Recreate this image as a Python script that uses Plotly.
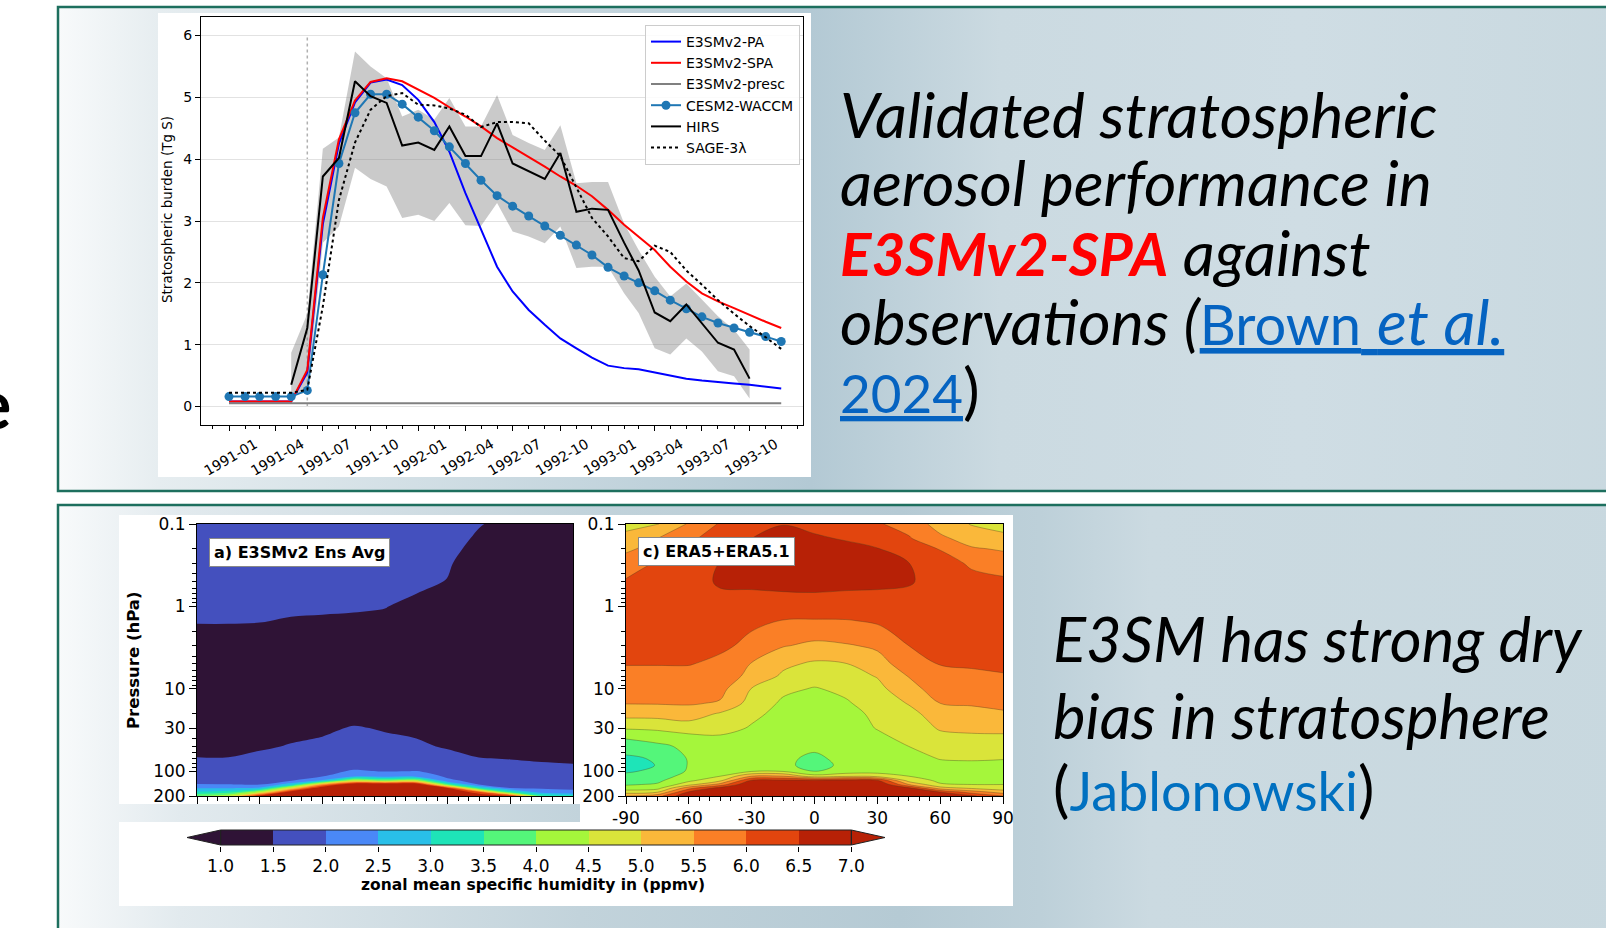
import base64
import numpy as np
import plotly.graph_objects as go

W, H = 1606, 928

# ---------------- top chart data (Tg S) ----------------
MONTHS = [f"{1991 + i // 12}-{i % 12 + 1:02d}-01" for i in range(36)]
PA = [0.08, 0.08, 0.08, 0.08, 0.08, 0.55, 2.95, 4.25, 4.92, 5.24, 5.29, 5.20, 4.96, 4.60, 4.12, 3.45,
      2.86, 2.26, 1.86, 1.56, 1.32, 1.10, 0.94, 0.79, 0.66, 0.62, 0.60, 0.55, 0.50, 0.45, 0.42, 0.39,
      0.37, 0.35, 0.32, 0.29]
SPA = [0.08, 0.08, 0.08, 0.08, 0.08, 0.59, 3.05, 4.32, 4.95, 5.25, 5.31, 5.26, 5.12, 4.99, 4.84, 4.69,
       4.53, 4.34, 4.19, 4.04, 3.88, 3.72, 3.57, 3.40, 3.18, 2.94, 2.75, 2.53, 2.26, 2.02, 1.83, 1.70,
       1.59, 1.48, 1.37, 1.27]
PRESC = [0.05, 0.05, 0.05, 0.05, 0.05, 0.05, 0.05, 0.05, 0.05, 0.05, 0.05, 0.05, 0.05, 0.05, 0.05, 0.055,
         0.055, 0.055, 0.06, 0.06, 0.06, 0.06, 0.06, 0.055, 0.055, 0.055, 0.05, 0.05, 0.05, 0.05, 0.05, 0.05,
         0.05, 0.05, 0.05, 0.05]
CESM = [0.16, 0.16, 0.16, 0.16, 0.16, 0.26, 2.13, 3.93, 4.75, 5.05, 5.05, 4.89, 4.68, 4.46, 4.20, 3.93,
        3.66, 3.41, 3.24, 3.08, 2.92, 2.77, 2.61, 2.45, 2.25, 2.11, 2.00, 1.87, 1.72, 1.58, 1.45, 1.35,
        1.27, 1.20, 1.13, 1.05]
HIRS_MONTHS = MONTHS[4:34]
HIRS = [0.35, 1.27, 3.72, 4.02, 5.26, 5.02, 4.91, 4.22, 4.27, 4.15, 4.53, 4.05, 4.05, 4.58, 3.93, 3.80,
        3.68, 4.10, 3.15, 3.20, 3.18, 2.65, 2.20, 1.52, 1.38, 1.65, 1.35, 1.03, 0.92, 0.45]
HIRS_LO = [0.20, 0.22, 2.65, 2.91, 3.86, 3.68, 3.56, 3.05, 3.10, 3.00, 3.29, 2.93, 2.92, 3.29, 2.83, 2.75,
           2.64, 2.91, 2.24, 2.26, 2.26, 1.83, 1.51, 0.94, 0.84, 1.10, 0.89, 0.57, 0.49, 0.13]
HIRS_HI = [0.87, 1.50, 4.17, 4.35, 5.74, 5.50, 5.31, 4.69, 4.80, 4.64, 4.99, 4.53, 4.53, 5.04, 4.39, 4.26,
           4.15, 4.55, 3.61, 3.63, 3.63, 2.96, 2.53, 2.10, 1.78, 1.99, 1.73, 1.46, 1.24, 0.92]
SAGE = [0.22, 0.22, 0.22, 0.22, 0.22, 0.27, 1.62, 3.34, 4.27, 4.80, 5.02, 5.07, 4.88, 4.87, 4.82, 4.72,
        4.52, 4.60, 4.60, 4.58, 4.30, 4.05, 3.55, 3.05, 2.75, 2.40, 2.35, 2.60, 2.50, 2.20, 1.97, 1.72,
        1.50, 1.30, 1.12, 0.93]
ERUPTION = "1991-06-01"
X_TICKS = MONTHS[0:34:3]
X_TICKTEXT = [m[:7] for m in X_TICKS]

# ---------------- zonal mean specific humidity (ppmv) ----------------
LAT = [-90, -75, -60, -45, -30, -15, 0, 15, 30, 45, 60, 75, 90]
PRES = [0.1, 0.15, 0.2, 0.3, 0.5, 0.7, 1, 1.5, 2, 3, 5, 7, 10, 15, 20, 30, 40, 50, 70, 85,
        100, 115, 130, 145, 160, 180, 200]
# rows follow PRES, columns follow LAT
E3SM_Q = [
    [1.85, 1.85, 1.85, 1.85, 1.85, 1.85, 1.80, 1.75, 1.68, 1.52, 1.40, 1.35, 1.35],
    [1.80, 1.80, 1.80, 1.80, 1.80, 1.78, 1.75, 1.70, 1.63, 1.45, 1.35, 1.30, 1.30],
    [1.77, 1.77, 1.77, 1.76, 1.76, 1.74, 1.71, 1.66, 1.59, 1.40, 1.30, 1.28, 1.28],
    [1.72, 1.72, 1.72, 1.71, 1.71, 1.69, 1.66, 1.61, 1.53, 1.35, 1.28, 1.25, 1.25],
    [1.65, 1.65, 1.65, 1.64, 1.64, 1.62, 1.60, 1.56, 1.49, 1.30, 1.25, 1.22, 1.22],
    [1.60, 1.60, 1.60, 1.59, 1.59, 1.57, 1.55, 1.50, 1.42, 1.27, 1.22, 1.20, 1.20],
    [1.56, 1.56, 1.56, 1.55, 1.54, 1.53, 1.51, 1.42, 1.35, 1.25, 1.20, 1.18, 1.18],
    [1.52, 1.52, 1.51, 1.48, 1.47, 1.46, 1.44, 1.36, 1.30, 1.22, 1.18, 1.16, 1.16],
    [1.45, 1.45, 1.45, 1.42, 1.41, 1.40, 1.38, 1.32, 1.27, 1.20, 1.16, 1.15, 1.15],
    [1.38, 1.38, 1.38, 1.36, 1.35, 1.34, 1.32, 1.28, 1.24, 1.18, 1.15, 1.14, 1.14],
    [1.32, 1.32, 1.32, 1.30, 1.30, 1.30, 1.28, 1.25, 1.22, 1.17, 1.14, 1.13, 1.13],
    [1.30, 1.30, 1.30, 1.28, 1.28, 1.28, 1.26, 1.24, 1.21, 1.17, 1.14, 1.13, 1.13],
    [1.28, 1.28, 1.28, 1.27, 1.27, 1.27, 1.25, 1.23, 1.20, 1.17, 1.14, 1.13, 1.13],
    [1.28, 1.28, 1.28, 1.28, 1.29, 1.30, 1.28, 1.26, 1.22, 1.18, 1.15, 1.14, 1.14],
    [1.30, 1.30, 1.31, 1.33, 1.36, 1.40, 1.37, 1.33, 1.28, 1.22, 1.18, 1.17, 1.17],
    [1.34, 1.34, 1.36, 1.40, 1.45, 1.52, 1.48, 1.43, 1.36, 1.30, 1.25, 1.23, 1.22],
    [1.37, 1.37, 1.41, 1.47, 1.51, 1.58, 1.53, 1.50, 1.41, 1.34, 1.29, 1.27, 1.26],
    [1.41, 1.41, 1.46, 1.52, 1.56, 1.63, 1.58, 1.55, 1.47, 1.39, 1.33, 1.31, 1.30],
    [1.51, 1.51, 1.57, 1.62, 1.66, 1.72, 1.68, 1.65, 1.60, 1.51, 1.49, 1.46, 1.44],
    [1.58, 1.58, 1.63, 1.70, 1.76, 1.85, 1.82, 1.80, 1.70, 1.58, 1.56, 1.54, 1.52],
    [1.66, 1.66, 1.70, 1.78, 1.86, 2.05, 1.98, 2.01, 1.80, 1.66, 1.62, 1.60, 1.58],
    [1.76, 1.76, 1.78, 1.86, 1.96, 2.40, 2.25, 2.30, 1.92, 1.74, 1.68, 1.66, 1.64],
    [1.88, 1.88, 1.88, 1.97, 2.60, 4.50, 4.00, 4.30, 2.10, 1.84, 1.76, 1.73, 1.71],
    [2.02, 2.01, 1.98, 2.80, 5.50, 7.30, 7.30, 7.30, 3.60, 1.98, 1.86, 1.82, 1.80],
    [2.45, 2.45, 2.60, 4.80, 7.10, 7.30, 7.30, 7.30, 6.50, 3.20, 1.98, 1.94, 1.90],
    [3.10, 3.30, 4.50, 7.00, 7.30, 7.30, 7.30, 7.30, 7.20, 6.20, 3.50, 2.30, 2.15],
    [4.00, 4.50, 6.80, 7.20, 7.30, 7.30, 7.30, 7.30, 7.20, 7.00, 6.60, 3.60, 3.30],
]
# one list per latitude (LAT order), values follow PRES
ERA5_BY_LAT = [
    [4.80, 5.20, 5.40, 5.75, 6.05, 6.20, 6.30, 6.30, 6.25, 6.15, 6.02, 5.85, 5.70, 5.52, 5.20, 4.55, 4.02, 3.75, 3.40, 3.30, 3.45, 3.60, 3.80, 3.95, 4.20, 4.80, 5.50],
    [4.97, 5.50, 5.70, 6.05, 6.20, 6.30, 6.35, 6.35, 6.30, 6.20, 6.02, 5.85, 5.72, 5.53, 5.20, 4.60, 4.15, 3.90, 3.56, 3.52, 3.58, 3.75, 3.90, 4.05, 4.30, 5.00, 5.80],
    [5.55, 5.90, 6.05, 6.20, 6.30, 6.38, 6.40, 6.38, 6.30, 6.20, 6.02, 5.85, 5.72, 5.55, 5.25, 4.75, 4.30, 4.10, 4.04, 4.03, 4.06, 4.20, 4.40, 4.80, 5.80, 6.60, 7.00],
    [6.05, 6.25, 6.35, 6.52, 6.56, 6.45, 6.40, 6.30, 6.25, 6.08, 5.90, 5.80, 5.65, 5.45, 4.95, 4.70, 4.40, 4.30, 4.20, 4.20, 4.30, 4.50, 4.90, 5.70, 6.70, 7.10, 7.20],
    [6.35, 6.50, 6.60, 6.65, 6.60, 6.45, 6.35, 6.20, 6.00, 5.90, 5.47, 5.35, 4.98, 4.80, 4.62, 4.45, 4.35, 4.30, 4.20, 4.15, 4.45, 5.50, 6.60, 7.10, 7.30, 7.30, 7.20],
    [6.48, 6.70, 6.80, 6.85, 6.75, 6.45, 6.30, 5.97, 5.85, 5.53, 5.10, 4.92, 4.60, 4.42, 4.35, 4.30, 4.20, 4.15, 4.10, 4.10, 4.45, 5.50, 6.65, 7.20, 7.30, 7.30, 7.20],
    [6.40, 6.55, 6.70, 6.80, 6.70, 6.48, 6.30, 5.96, 5.70, 5.40, 4.92, 4.70, 4.47, 4.35, 4.30, 4.25, 4.20, 4.10, 3.90, 3.85, 3.97, 4.70, 6.70, 7.20, 7.30, 7.30, 7.20],
    [6.30, 6.47, 6.60, 6.70, 6.65, 6.45, 6.30, 5.97, 5.80, 5.45, 4.98, 4.80, 4.60, 4.45, 4.35, 4.30, 4.25, 4.20, 4.15, 4.10, 4.20, 4.90, 6.75, 7.20, 7.30, 7.30, 7.20],
    [6.05, 6.30, 6.52, 6.60, 6.60, 6.45, 6.35, 6.05, 5.90, 5.58, 5.30, 5.03, 4.85, 4.70, 4.60, 4.52, 4.40, 4.30, 4.25, 4.20, 4.30, 4.80, 6.60, 7.10, 7.30, 7.30, 7.20],
    [5.80, 6.05, 6.25, 6.51, 6.56, 6.40, 6.35, 6.25, 6.15, 6.00, 5.75, 5.52, 5.35, 5.03, 4.85, 4.70, 4.60, 4.50, 4.35, 4.30, 4.40, 4.50, 4.80, 5.50, 6.60, 7.00, 7.00],
    [5.30, 5.60, 5.98, 6.15, 6.25, 6.30, 6.32, 6.30, 6.25, 6.15, 6.02, 5.85, 5.70, 5.50, 5.25, 5.05, 4.85, 4.70, 4.52, 4.40, 4.35, 4.35, 4.40, 4.55, 5.20, 6.55, 7.00],
    [4.97, 5.30, 5.55, 5.95, 6.10, 6.20, 6.25, 6.25, 6.20, 6.12, 6.03, 5.95, 5.75, 5.55, 5.35, 5.10, 4.90, 4.75, 4.55, 4.40, 4.35, 4.35, 4.40, 4.50, 4.90, 5.80, 6.60],
    [4.80, 5.15, 5.45, 5.75, 6.10, 6.20, 6.25, 6.25, 6.20, 6.12, 6.08, 5.97, 5.80, 5.60, 5.45, 5.12, 4.90, 4.75, 4.52, 4.40, 4.35, 4.35, 4.40, 4.50, 4.70, 5.30, 6.00],
]
ERA5_Q = np.array(ERA5_BY_LAT).T.tolist()

CB_LEVELS = [1.0, 1.5, 2.0, 2.5, 3.0, 3.5, 4.0, 4.5, 5.0, 5.5, 6.0, 6.5, 7.0]
COLORS = ['#2f1336', '#4450be', '#4a88f7', '#29bfe8', '#1ee4b8', '#54f67a',
          '#a5f63b', '#dae43a', '#fab83a', '#fa7f26', '#e2450e', '#b72106']
LAT_TICKS = [-90, -60, -30, 0, 30, 60, 90]
P_TICKS = [0.1, 1, 10, 30, 100, 200]
P_MINOR = [0.2, 0.3, 0.4, 0.5, 0.6, 0.7, 0.8, 0.9, 2, 3, 4, 5, 6, 7, 8, 9, 20, 40, 50, 60, 70, 80, 90]


def px(x):
    return x / W


def py(y):
    return 1 - y / H


# ---------------- background (slide panels) ----------------
TOP_STOPS = [(58, '#f8fafb'), (159, '#e6edf0'), (811, '#b3c9d4'), (1000, '#cbdae1'),
             (1300, '#cfdde4'), (1658, '#c8d8df')]
BOT_STOPS = [(58, '#f8fafb'), (180, '#e2eaee'), (580, '#c2d3db'), (900, '#b5cad4'),
             (1040, '#bdd0d9'), (1150, '#cbdae1'), (1658, '#c8d8df')]


def grad(gid, stops):
    s = ''.join(f'<stop offset="{(x - 58) / 1600:.4f}" stop-color="{c}"/>' for x, c in stops)
    return f'<linearGradient id="{gid}" x1="0" y1="0" x2="1" y2="0">{s}</linearGradient>'


svg = (f'<svg xmlns="http://www.w3.org/2000/svg" width="{W}" height="{H}" viewBox="0 0 {W} {H}">'
       f'<defs>{grad("gt", TOP_STOPS)}{grad("gb", BOT_STOPS)}</defs>'
       '<rect x="0" y="0" width="1606" height="928" fill="#ffffff"/>'
       '<rect x="58" y="7" width="1600" height="484" fill="url(#gt)" stroke="#1d6f5e" stroke-width="2.5"/>'
       '<rect x="58" y="505" width="1600" height="460" fill="url(#gb)" stroke="#1d6f5e" stroke-width="2.5"/>'
       '<rect x="158" y="13" width="653" height="464" fill="#ffffff"/>'
       '<rect x="119" y="515" width="461" height="289" fill="#ffffff"/>'
       '<rect x="580" y="515" width="433" height="307" fill="#ffffff"/>'
       '<rect x="119" y="822" width="894" height="84" fill="#ffffff"/>'
       '</svg>')
bg_uri = 'data:image/svg+xml;base64,' + base64.b64encode(svg.encode()).decode()

fig = go.Figure()

# ---------------- top chart ----------------
fig.add_trace(go.Scatter(x=HIRS_MONTHS, y=HIRS_LO, mode='lines', line=dict(width=0),
                         showlegend=False, hoverinfo='skip', xaxis='x', yaxis='y'))
fig.add_trace(go.Scatter(x=HIRS_MONTHS, y=HIRS_HI, mode='lines', line=dict(width=0),
                         fill='tonexty', fillcolor='rgba(128,128,128,0.42)',
                         showlegend=False, hoverinfo='skip', xaxis='x', yaxis='y'))
fig.add_trace(go.Scatter(x=MONTHS, y=PA, mode='lines', name='E3SMv2-PA',
                         line=dict(color='#0000ff', width=2), xaxis='x', yaxis='y'))
fig.add_trace(go.Scatter(x=MONTHS, y=SPA, mode='lines', name='E3SMv2-SPA',
                         line=dict(color='#ff0000', width=2), xaxis='x', yaxis='y'))
fig.add_trace(go.Scatter(x=MONTHS, y=PRESC, mode='lines', name='E3SMv2-presc',
                         line=dict(color='#808080', width=2), xaxis='x', yaxis='y'))
fig.add_trace(go.Scatter(x=MONTHS, y=CESM, mode='lines+markers', name='CESM2-WACCM',
                         line=dict(color='#1f77b4', width=2), marker=dict(size=9, color='#1f77b4'),
                         xaxis='x', yaxis='y'))
fig.add_trace(go.Scatter(x=HIRS_MONTHS, y=HIRS, mode='lines', name='HIRS',
                         line=dict(color='#000000', width=2), xaxis='x', yaxis='y'))
fig.add_trace(go.Scatter(x=MONTHS, y=SAGE, mode='lines', name='SAGE-3λ',
                         line=dict(color='#000000', width=2, dash='dot'), xaxis='x', yaxis='y'))

# ---------------- contour panels ----------------
nlev = len(COLORS) - 1
CSCALE = [[i / nlev, c] for i, c in enumerate(COLORS)]
contour_levels = dict(start=CB_LEVELS[1], end=CB_LEVELS[-2], size=0.5, coloring='fill', showlines=True)

fig.add_trace(go.Contour(x=LAT, y=PRES, z=E3SM_Q, colorscale=CSCALE, autocontour=False,
                         contours=contour_levels, line=dict(width=0), showscale=False,
                         hoverinfo='skip', xaxis='x2', yaxis='y2'))
fig.add_trace(go.Contour(x=LAT, y=PRES, z=ERA5_Q, colorscale=CSCALE, autocontour=False,
                         contours=contour_levels, line=dict(width=0.8, color='rgba(70,60,30,0.45)'),
                         showscale=False, hoverinfo='skip', xaxis='x3', yaxis='y3'))

# ---------------- colour bar ----------------
cb_centers = [(a + b) / 2 for a, b in zip(CB_LEVELS[:-1], CB_LEVELS[1:])]
fig.add_trace(go.Heatmap(x=CB_LEVELS, y=[0, 1], z=[cb_centers], colorscale=CSCALE,
                         zmin=cb_centers[0], zmax=cb_centers[-1], showscale=False,
                         hoverinfo='skip', xaxis='x4', yaxis='y4'))
ARROW = 0.32
lo, hi = CB_LEVELS[0], CB_LEVELS[-1]
shapes = [
    dict(type='line', xref='x', yref='y', x0=ERUPTION, x1=ERUPTION, y0=0, y1=6,
         line=dict(color='#b0b0b0', width=1.5, dash='dot'), layer='below'),
    dict(type='path', xref='x4', yref='y4', path=f'M {lo},0 L {lo - ARROW},0.5 L {lo},1 Z',
         fillcolor=COLORS[0], line=dict(color='#222', width=1)),
    dict(type='path', xref='x4', yref='y4', path=f'M {hi},0 L {hi + ARROW},0.5 L {hi},1 Z',
         fillcolor=COLORS[-1], line=dict(color='#222', width=1)),
    dict(type='rect', xref='x4', yref='y4', x0=lo, x1=hi, y0=0, y1=1,
         line=dict(color='#222', width=1)),
]

tick_font = dict(family='DejaVu Sans', size=14, color='#000')
nc_font = dict(family='DejaVu Sans', size=17, color='#000')
log_y = dict(type='log', range=[np.log10(200), np.log10(0.1)], tickmode='array', tickvals=P_TICKS,
             ticktext=[f'{v:g}' for v in P_TICKS], ticks='outside', ticklen=7, tickcolor='#000',
             minor=dict(tickmode='array', tickvals=P_MINOR, ticks='outside', ticklen=4, tickcolor='#000'),
             showline=True, mirror=True, linecolor='#000', linewidth=1, showgrid=False,
             zeroline=False, tickfont=nc_font, automargin=False)
lat_x = dict(range=[-90, 90], tickmode='array', tickvals=LAT_TICKS, ticks='outside', ticklen=7,
             tickcolor='#000', minor=dict(dtick=5, tick0=0, ticks='outside', ticklen=4, tickcolor='#000'),
             showline=True, mirror=True, linecolor='#000', linewidth=1, showgrid=False,
             zeroline=False, tickfont=nc_font, automargin=False)


def note(text, x, y, font, **kw):
    d = dict(text=text, x=px(x), y=py(y), xref='paper', yref='paper', xanchor='center',
             yanchor='middle', showarrow=False, font=font)
    d.update(kw)
    return d


# ---------------- annotations ----------------
TXT_TOP = dict(family='Lato', size=62.5, color='#000')
TXT_BOT = dict(family='Lato', size=61.5, color='#000')
ann = []
top_lines = [
    "<i>Validated stratospheric</i>",
    "<i>aerosol performance in</i>",
    "<span style='color:#ff0000;font-size:58.5px'><b><i>E3SMv2-SPA</i></b></span><i> against</i>",
    "<i>observations (</i><span style='color:#0563c1'><u><span style='font-size:56px'>Brown</span> <i>et al.</i></u></span>",
    "<span style='color:#0563c1;font-size:53px'><u>2024</u></span>)",
]
for t, yc in zip(top_lines, [113.5, 182, 251, 320, 388.5]):
    ann.append(note(t, 838, yc, TXT_TOP, xanchor='left'))
bot_lines = [
    "<i>E3SM has strong dry</i>",
    "<i>bias in stratosphere</i>",
    "(<span style='color:#0070c0;font-size:54px'>Jablonowski</span>)",
]
for t, yc in zip(bot_lines, [638, 715, 787]):
    ann.append(note(t, 1051, yc, TXT_BOT, xanchor='left'))
ann.append(note('<b>e</b>', 13, 402, dict(family='Lato', size=68, color='#000'), xanchor='right'))
ann.append(note('Stratospheric burden (Tg S)', 167, 210,
                dict(family='DejaVu Sans', size=13.5, color='#000'), textangle=-90))
ann.append(note('<b>Pressure (hPa)</b>', 133, 660,
                dict(family='DejaVu Sans', size=16.5, color='#000'), textangle=-90))
ann.append(note('<b>a) E3SMv2 Ens Avg</b>', 299.5, 552, dict(family='DejaVu Sans', size=16, color='#000'),
                bgcolor='#ffffff', bordercolor='#888', borderwidth=1, borderpad=4))
ann.append(note('<b>c) ERA5+ERA5.1</b>', 716, 551, dict(family='DejaVu Sans', size=16, color='#000'),
                bgcolor='#ffffff', bordercolor='#888', borderwidth=1, borderpad=4))
ann.append(note('<b>zonal mean specific humidity in (ppmv)</b>', 533, 885,
                dict(family='DejaVu Sans', size=15.5, color='#000')))

fig.update_layout(
    template='none',
    width=W, height=H, autosize=False, margin=dict(l=0, r=0, t=0, b=0, pad=0),
    paper_bgcolor='#ffffff', plot_bgcolor='rgba(0,0,0,0)',
    images=[dict(source=bg_uri, xref='paper', yref='paper', x=0, y=1, sizex=1, sizey=1,
                 xanchor='left', yanchor='top', sizing='stretch', layer='below')],
    xaxis=dict(domain=[px(201), px(803)], anchor='y', type='date', range=['1990-11-08', '1994-01-12'],
               tickmode='array', tickvals=X_TICKS, ticktext=X_TICKTEXT, tickangle=-30,
               ticks='outside', ticklen=5, tickcolor='#000', ticklabelshift=26,
               minor=dict(ticks='outside', dtick='M1', tick0='1991-01-01', ticklen=3, tickcolor='#000'),
               showline=True, mirror=True, linecolor='#000', linewidth=1, showgrid=False,
               zeroline=False, tickfont=tick_font, automargin=False),
    yaxis=dict(domain=[py(425), py(17)], anchor='x', range=[-0.3, 6.3], tickmode='linear', tick0=0,
               dtick=1, ticks='outside', ticklen=5, tickcolor='#000', showline=True, mirror=True,
               linecolor='#000', linewidth=1, showgrid=True, gridcolor='#e2e2e2', zeroline=False,
               tickfont=tick_font, automargin=False),
    xaxis2=dict(domain=[px(197), px(573)], anchor='y2', showticklabels=False, **lat_x),
    yaxis2=dict(domain=[py(796), py(524)], anchor='x2', **log_y),
    xaxis3=dict(domain=[px(626), px(1003)], anchor='y3', showticklabels=True,
                ticktext=[f'{v}' for v in LAT_TICKS], **lat_x),
    yaxis3=dict(domain=[py(796), py(524)], anchor='x3', **log_y),
    xaxis4=dict(domain=[px(187), px(885)], anchor='y4', range=[lo - ARROW, hi + ARROW],
                tickmode='array', tickvals=CB_LEVELS, ticktext=[f'{v:.1f}' for v in CB_LEVELS],
                ticks='outside', ticklen=5, tickcolor='#000', showline=False, showgrid=False,
                zeroline=False, tickfont=nc_font, automargin=False),
    yaxis4=dict(domain=[py(845.9), py(829.1)], anchor='x4', range=[-0.06, 1.06], visible=False,
                automargin=False),
    legend=dict(x=px(800), y=py(25), xanchor='right', yanchor='top', traceorder='normal',
                bgcolor='rgba(255,255,255,0.85)', bordercolor='#cccccc', borderwidth=1,
                font=dict(family='DejaVu Sans', size=14, color='#000')),
    shapes=shapes,
    annotations=ann,
)

fig.write_html("out.html")
